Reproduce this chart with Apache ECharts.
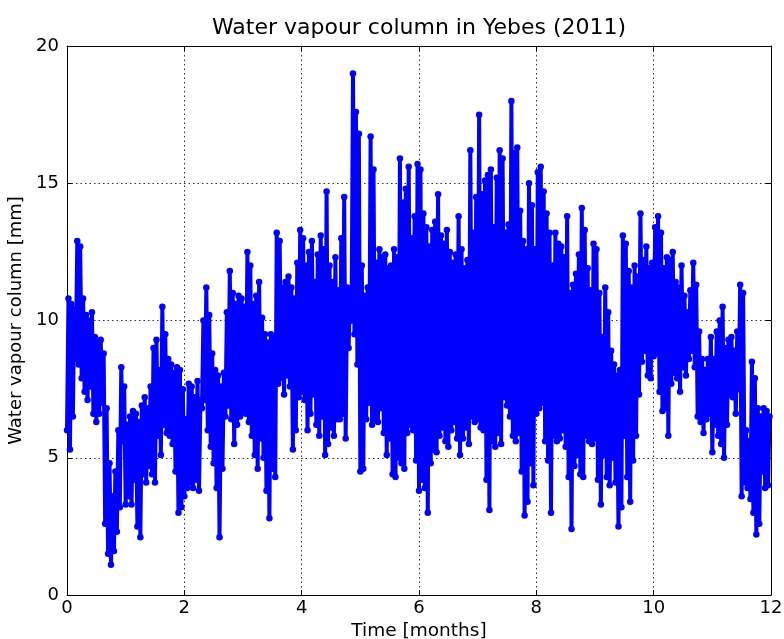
<!DOCTYPE html>
<html>
<head>
<meta charset="utf-8">
<script src="https://cdn.jsdelivr.net/npm/echarts@6/dist/echarts.min.js"></script>
<style>
html, body { margin: 0; padding: 0; background: #fff; }
#chart { width: 784px; height: 639px; }
</style>
</head>
<body>
<div id="chart"></div>
<script>
// Labels and axis ticks
const chartTitle = 'Water vapour column in Yebes (2011)';
const xAxisName = 'Time [months]';
const yAxisName = 'Water vapour column [mm]';
const xTicks = [0, 2, 4, 6, 8, 10, 12];
const yTicks = [0, 5, 10, 15, 20];

// Each bin covers 0.05 month; for every bin the highest and lowest
// water vapour column reached inside it [mm]. One row = half a month.
const binWidth = 0.05;
const binPeaks = [
  10.8, 10.6, 10.4, 12.9, 12.7, 10.8, 10.2, 10.0, 10.3, 9.4,
  9.2, 9.3, 8.8, 6.8, 4.8, 3.6, 4.5, 6.0, 8.3, 7.6,
  6.2, 6.5, 6.7, 6.6, 6.3, 6.9, 7.2, 6.8, 7.6, 9.0,
  9.3, 8.2, 10.5, 9.5, 8.6, 8.4, 8.1, 8.3, 8.2, 7.5,
  6.4, 7.7, 7.6, 7.2, 7.8, 7.1, 10.0, 11.2, 10.2, 8.8,
  8.2, 8.0, 7.6, 8.1, 10.3, 11.8, 11.0, 10.6, 10.9, 10.8,
  10.5, 12.5, 12.0, 10.6, 10.9, 11.4, 10.1, 9.5, 9.2, 9.5,
  9.4, 13.2, 12.9, 11.2, 11.4, 11.6, 11.2, 10.8, 12.1, 13.3,
  13.0, 12.0, 12.5, 12.9, 11.4, 12.4, 13.1, 12.6, 14.7, 12.0,
  11.4, 12.3, 11.1, 13.0, 14.5, 11.2, 11.0, 19.0, 17.6, 16.8,
  12.0, 10.9, 11.2, 16.7, 15.5, 12.1, 12.6, 12.3, 12.4, 11.9,
  12.0, 12.6, 12.3, 15.9, 14.3, 14.8, 15.6, 13.0, 13.8, 15.7,
  15.5, 13.9, 13.4, 12.7, 13.3, 13.6, 14.6, 13.1, 12.8, 13.3,
  12.5, 12.1, 12.4, 13.8, 12.6, 11.9, 12.2, 16.2, 13.2, 14.5,
  17.5, 14.6, 15.1, 15.3, 15.5, 13.4, 15.2, 16.2, 15.9, 13.2,
  13.5, 18.0, 16.1, 16.3, 14.0, 12.9, 12.6, 15.0, 14.2, 12.6,
  15.4, 15.6, 14.7, 13.9, 13.2, 12.0, 13.2, 12.8, 12.7, 12.3,
  13.8, 11.0, 11.3, 11.7, 12.4, 14.1, 13.3, 11.9, 11.1, 12.8,
  12.6, 11.0, 9.4, 11.2, 10.3, 8.9, 8.4, 8.0, 8.2, 13.1,
  12.8, 11.8, 11.2, 12.0, 11.6, 13.9, 12.2, 12.7, 11.9, 12.1,
  13.4, 13.8, 13.2, 11.9, 12.3, 12.2, 12.5, 11.4, 11.2, 12.0,
  10.9, 10.3, 11.1, 12.1, 11.3, 9.6, 8.6, 8.2, 8.6, 9.4,
  8.6, 9.6, 10.0, 10.5, 9.0, 9.3, 9.4, 8.9, 9.6, 11.3,
  11.0, 6.0, 5.6, 8.5, 7.9, 6.8, 6.5, 6.8, 6.7, 6.5
];
const binTroughs = [
  6.0, 5.3, 6.5, 8.6, 8.4, 7.9, 7.4, 7.1, 7.6, 6.6,
  6.3, 6.6, 7.0, 2.6, 1.5, 1.1, 1.6, 2.3, 3.2, 5.6,
  3.3, 3.6, 3.3, 4.2, 2.5, 2.1, 4.4, 4.1, 4.7, 4.4,
  4.1, 5.8, 5.1, 6.2, 5.9, 5.8, 5.5, 4.5, 3.0, 3.2,
  3.6, 3.9, 4.1, 3.9, 4.2, 3.8, 6.8, 7.1, 6.0, 5.4,
  4.8, 3.9, 2.1, 4.6, 6.5, 6.9, 6.4, 5.5, 6.2, 6.5,
  6.7, 6.6, 6.3, 5.8, 5.1, 4.6, 5.7, 5.0, 3.8, 2.8,
  4.6, 4.3, 7.7, 7.9, 7.3, 8.0, 7.6, 5.3, 6.0, 7.2,
  7.4, 7.1, 6.0, 6.6, 7.3, 6.2, 5.8, 6.5, 5.1, 5.5,
  6.1, 5.8, 6.4, 6.4, 6.6, 5.7, 9.0, 10.0, 9.5, 8.4,
  4.5, 4.6, 6.4, 7.0, 6.2, 6.4, 6.3, 6.8, 5.9, 5.1,
  5.7, 4.4, 4.3, 5.0, 4.8, 4.6, 5.9, 6.2, 6.0, 4.9,
  3.8, 4.2, 3.9, 3.0, 4.8, 5.3, 5.2, 5.8, 6.1, 5.6,
  5.4, 6.0, 6.3, 5.7, 5.1, 5.7, 6.1, 5.5, 6.5, 6.3,
  6.4, 6.1, 6.0, 4.2, 3.1, 5.6, 5.4, 5.9, 5.5, 7.2,
  6.9, 6.5, 5.8, 5.6, 5.9, 4.5, 2.9, 3.4, 4.8, 4.0,
  6.6, 6.8, 7.0, 5.6, 4.9, 3.0, 5.8, 5.6, 5.7, 6.0,
  5.4, 4.3, 2.4, 4.7, 5.1, 4.4, 4.3, 5.8, 5.6, 5.5,
  5.7, 4.2, 3.3, 5.1, 4.3, 4.0, 5.0, 4.1, 2.5, 3.2,
  5.8, 4.3, 3.4, 4.9, 5.8, 7.3, 8.5, 8.9, 8.0, 7.9,
  8.7, 8.8, 7.4, 6.7, 6.8, 5.8, 7.7, 8.1, 7.9, 7.4,
  8.3, 8.0, 8.6, 8.9, 8.3, 6.5, 6.3, 5.9, 6.4, 6.6,
  5.2, 6.2, 5.8, 5.5, 5.0, 6.2, 7.3, 7.2, 6.6, 7.5,
  3.6, 4.1, 3.9, 3.5, 3.0, 2.2, 2.6, 4.5, 3.9, 4.0
];

// Time series in [month, mm]: the trough then the peak of every bin.
const vapourSeries = [];
for (let k = 0; k < binPeaks.length; k++) {
  const t = k * binWidth;
  vapourSeries.push([t, binTroughs[k]]);
  vapourSeries.push([t + binWidth / 2, binPeaks[k]]);
}

const font = 'DejaVu Sans';
const frameAxis = (extra) => Object.assign({
  type: 'value',
  axisLine: { show: true, onZero: false, lineStyle: { color: '#000', width: 1 } },
  axisTick: { show: true, inside: true, length: 5, lineStyle: { color: '#000', width: 1 } },
  splitLine: { show: false }
}, extra);

const gridLine = { show: true, lineStyle: { color: '#333', width: 1, type: [1.5, 3] } };
const tickLabel = { fontFamily: font, fontSize: 18, color: '#000' };

const chart = echarts.init(document.getElementById('chart'), null, { renderer: 'canvas' });
chart.setOption({
  animation: false,
  backgroundColor: '#fff',
  title: {
    text: chartTitle,
    left: 419,
    top: 17,
    textAlign: 'center',
    padding: 0,
    textStyle: { fontFamily: font, fontSize: 22, fontWeight: 'normal', color: '#000' }
  },
  grid: {
    left: 67, right: 13, top: 46, bottom: 44,
    containLabel: false,
    outerBoundsMode: 'none'
  },
  xAxis: [
    frameAxis({
      position: 'bottom',
      min: xTicks[0], max: xTicks[xTicks.length - 1], interval: xTicks[1] - xTicks[0],
      axisLabel: Object.assign({ margin: 4 }, tickLabel),
      splitLine: gridLine,
      name: xAxisName, nameLocation: 'middle', nameGap: 24,
      nameTextStyle: { fontFamily: font, fontSize: 18.5, color: '#000' }
    }),
    frameAxis({
      position: 'top',
      min: xTicks[0], max: xTicks[xTicks.length - 1], interval: xTicks[1] - xTicks[0],
      axisLabel: { show: false }
    })
  ],
  yAxis: [
    frameAxis({
      position: 'left',
      min: yTicks[0], max: yTicks[yTicks.length - 1], interval: yTicks[1] - yTicks[0],
      axisLabel: Object.assign({ margin: 8 }, tickLabel),
      splitLine: gridLine,
      name: yAxisName, nameLocation: 'middle', nameGap: 24, nameRotate: 90,
      nameTextStyle: { fontFamily: font, fontSize: 18, color: '#000' }
    }),
    frameAxis({
      position: 'right',
      min: yTicks[0], max: yTicks[yTicks.length - 1], interval: yTicks[1] - yTicks[0],
      axisLabel: { show: false }
    })
  ],
  series: [{
    type: 'line',
    data: vapourSeries,
    xAxisIndex: 0,
    yAxisIndex: 0,
    symbol: 'circle',
    symbolSize: 6.5,
    showSymbol: true,
    lineStyle: { color: '#0000ff', width: 4 },
    itemStyle: { color: '#0000ff', borderWidth: 0 },
    emphasis: { disabled: true },
    silent: true,
    z: 3
  }]
});
</script>
</body>
</html>
